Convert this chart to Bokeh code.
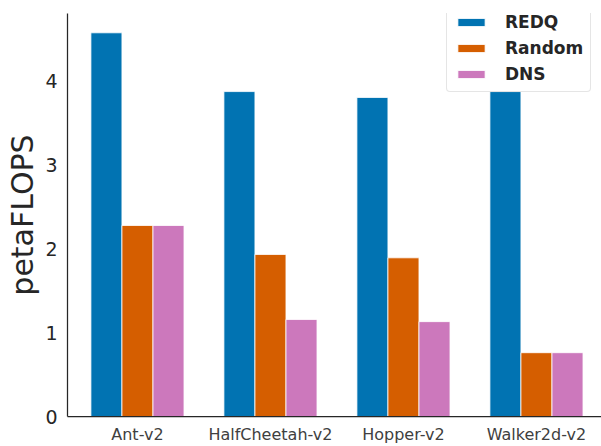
from bokeh.plotting import figure
from bokeh.models import Range1d, FixedTicker, Legend, LegendItem, ColumnDataSource
from bokeh.embed import file_html
from bokeh.resources import INLINE

categories = ["Ant-v2", "HalfCheetah-v2", "Hopper-v2", "Walker2d-v2"]
series_names = ["REDQ", "Random", "DNS"]
redq = [4.57, 3.87, 3.80, 3.87]
random_ = [2.275, 1.93, 1.89, 0.76]
dns = [2.275, 1.155, 1.13, 0.76]
colors = ["#0173b2", "#d55e00", "#cc78bc"]
y_ticks = [0, 1, 2, 3, 4]

series = [redq, random_, dns]
bar_w = 0.7 / 3
offsets = [-bar_w, 0.0, bar_w]

p = figure(width=601, height=446, output_backend="svg", toolbar_location=None,
           x_range=Range1d(-0.526, 3.489), y_range=Range1d(0, 4.80),
           min_border_left=67, min_border_right=0, min_border_top=13, min_border_bottom=28)
p.outline_line_color = None
p.xgrid.visible = False
p.ygrid.visible = False
p.background_fill_color = "white"

items = []
for name, vals, off, col in zip(series_names, series, offsets, colors):
    src = ColumnDataSource(dict(x=[i + off for i in range(len(categories))], top=vals))
    r = p.vbar(x="x", top="top", width=bar_w, bottom=0, source=src,
               fill_color=col, line_color="white", line_width=1, line_alpha=0.8)
    items.append(LegendItem(label=name, renderers=[r]))

p.xaxis.ticker = FixedTicker(ticks=list(range(len(categories))))
p.xaxis.major_label_overrides = {i: c for i, c in enumerate(categories)}
p.yaxis.ticker = FixedTicker(ticks=y_ticks)

for ax in (p.xaxis, p.yaxis):
    ax.major_tick_line_color = None
    ax.minor_tick_line_color = None
    ax.major_tick_out = 0
    ax.major_tick_in = 0
    ax.minor_tick_out = 0
    ax.minor_tick_in = 0
    ax.axis_line_color = "#262626"
    ax.axis_line_width = 1.25
    ax.major_label_text_font = "DejaVu Sans"

p.xaxis.major_label_text_font_size = "16px"
p.xaxis.major_label_text_color = "#404040"
p.xaxis.major_label_standoff = 8
p.xaxis.axis_label_standoff = 0
p.yaxis.major_label_text_font_size = "19px"
p.yaxis.major_label_text_color = "#262626"
p.yaxis.major_label_standoff = 10
p.yaxis.axis_label = "petaFLOPS"
p.yaxis.axis_label_text_font = "DejaVu Sans"
p.yaxis.axis_label_text_font_size = "30px"
p.yaxis.axis_label_text_font_style = "normal"
p.yaxis.axis_label_text_color = "#262626"
p.yaxis.axis_label_standoff = 2

legend = Legend(items=items, location=(379, 324))
legend.label_text_font = "DejaVu Sans"
legend.label_text_font_style = "bold"
legend.label_text_font_size = "17px"
legend.label_text_color = "#262626"
legend.glyph_width = 34
legend.glyph_height = 10
legend.label_height = 20
legend.label_standoff = 17
legend.spacing = 6
legend.padding = 7
legend.margin = 0
legend.border_line_color = "#cccccc"
legend.border_line_width = 1
legend.border_radius = 4
legend.background_fill_alpha = 0.8
p.add_layout(legend, "center")

open("out.html", "w").write(file_html(p, INLINE))
